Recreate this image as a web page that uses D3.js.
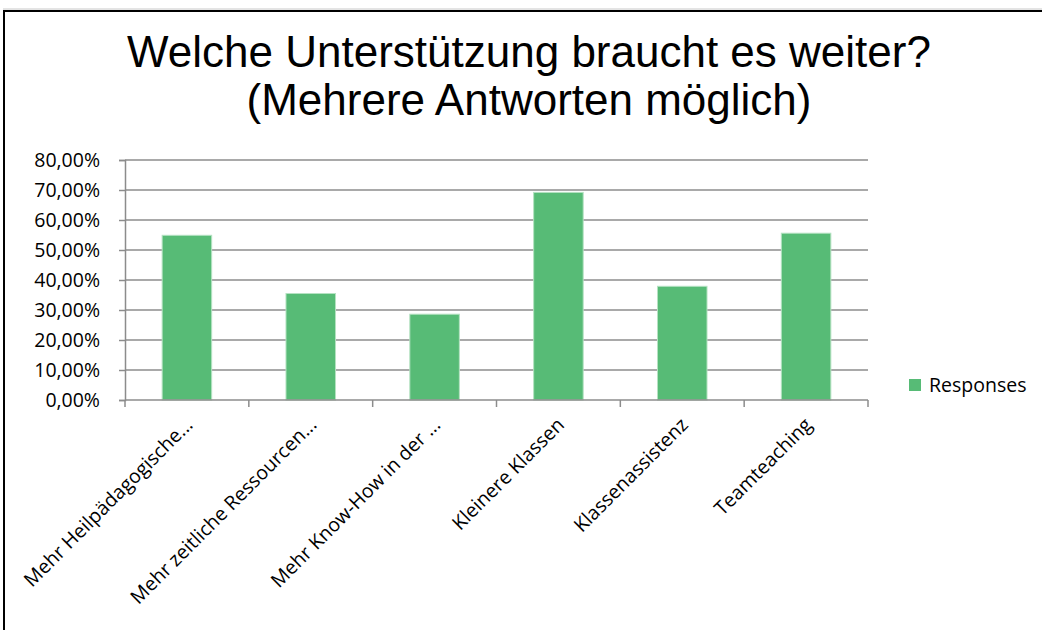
<!DOCTYPE html>
<html>
<head>
<meta charset="utf-8">
<script src="https://cdn.jsdelivr.net/npm/d3@7"></script>
<style>
  html, body { margin: 0; padding: 0; background: #fff; }
  svg { display: block; }
</style>
</head>
<body>
<svg id="chart" width="1042" height="630"></svg>
<script>
const categories = [
  "Mehr Heilpädagogische...",
  "Mehr zeitliche Ressourcen...",
  "Mehr Know-How in der ...",
  "Kleinere Klassen",
  "Klassenassistenz",
  "Teamteaching"
];
const responses = [0.549, 0.355, 0.286, 0.692, 0.379, 0.556];
const yTicks = [0, 0.1, 0.2, 0.3, 0.4, 0.5, 0.6, 0.7, 0.8];
const titleLines = ["Welche Unterstützung braucht es weiter?", "(Mehrere Antworten möglich)"];
const seriesName = "Responses";

(function () {
const svg = d3.select("#chart");
const W = 1042, H = 630;
const labelFont = "'Open Sans', 'Noto Sans', sans-serif";
const labelSize = 19.5;

// frame
svg.append("line").attr("x1", 3).attr("x2", W).attr("y1", 9).attr("y2", 9)
  .attr("stroke", "#c8c8c8").attr("stroke-width", 1);
svg.append("line").attr("x1", 3).attr("x2", W).attr("y1", 11).attr("y2", 11)
  .attr("stroke", "#000").attr("stroke-width", 2);
svg.append("line").attr("x1", 4).attr("x2", 4).attr("y1", 10).attr("y2", H)
  .attr("stroke", "#000").attr("stroke-width", 2);

// title
svg.append("g").selectAll("text").data(titleLines).join("text")
  .attr("x", 529)
  .attr("y", (d, i) => 67 + i * 48)
  .attr("text-anchor", "middle")
  .attr("font-family", "'Liberation Sans', Arial, sans-serif")
  .attr("font-size", 44)
  .attr("fill", "#000")
  .text(d => d);

const pLeft = 125, pRight = 868, pTop = 160, pBottom = 400;

const x = d3.scaleBand().domain(categories).range([pLeft, pRight]).paddingInner(0.6).paddingOuter(0.3);
const y = d3.scaleLinear().domain([0, 0.8]).range([pBottom, pTop]);

const fmt = v => d3.format(".2f")(v * 100).replace(".", ",") + "%";

// gridlines
svg.append("g").selectAll("line").data(yTicks.filter(t => t > 0)).join("line")
  .attr("x1", pLeft).attr("x2", pRight)
  .attr("y1", d => y(d)).attr("y2", d => y(d))
  .attr("stroke", "#8c8c8c").attr("stroke-width", 1.5);

// bars
svg.append("g").selectAll("rect").data(responses).join("rect")
  .attr("x", (d, i) => x(categories[i]))
  .attr("width", x.bandwidth())
  .attr("y", d => y(d))
  .attr("height", d => pBottom - y(d))
  .attr("fill", "#57bb76")
  .attr("stroke", "#b5e2c2")
  .attr("stroke-width", 1);

// y axis
const yAxis = svg.append("g").attr("transform", `translate(${pLeft},0)`)
  .call(d3.axisLeft(y).tickValues(yTicks).tickFormat(fmt).tickSize(6).tickPadding(19));
yAxis.select(".domain").attr("stroke", "#8c8c8c").attr("stroke-width", 1.5);
yAxis.selectAll(".tick line").attr("stroke", "#8c8c8c").attr("stroke-width", 1.5);
yAxis.selectAll("text").attr("font-family", labelFont).attr("font-size", labelSize).attr("fill", "#000");

// x axis
const boundaries = d3.range(categories.length + 1).map(i => pLeft + i * (pRight - pLeft) / categories.length);
const xg = svg.append("g");
xg.append("line").attr("x1", pLeft).attr("x2", pRight).attr("y1", pBottom).attr("y2", pBottom)
  .attr("stroke", "#8c8c8c").attr("stroke-width", 1.5);
xg.selectAll("line.tk").data(boundaries).join("line").attr("class", "tk")
  .attr("x1", d => d).attr("x2", d => d).attr("y1", pBottom).attr("y2", pBottom + 7)
  .attr("stroke", "#8c8c8c").attr("stroke-width", 1.5);

xg.selectAll("text").data(categories).join("text")
  .attr("transform", d => `translate(${x(d) + x.bandwidth() / 2 + 7},${pBottom + 26}) rotate(-45)`)
  .attr("text-anchor", "end")
  .attr("font-family", labelFont)
  .attr("font-size", labelSize)
  .attr("fill", "#000")
  .text(d => d);

// legend
const lg = svg.append("g").attr("transform", "translate(909,379)");
lg.append("rect").attr("width", 12).attr("height", 12).attr("fill", "#57bb76");
lg.append("text").attr("x", 20).attr("y", 13)
  .attr("font-family", labelFont).attr("font-size", labelSize).attr("fill", "#000")
  .text(seriesName);
})();
</script>
</body>
</html>
